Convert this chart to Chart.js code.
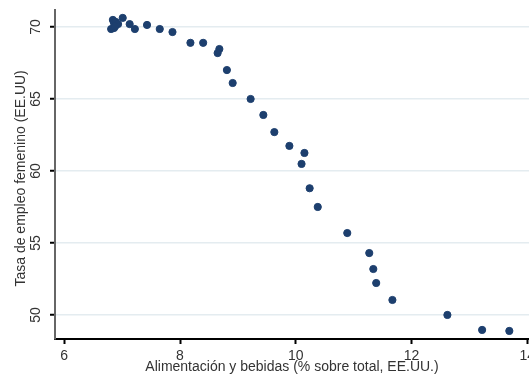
<!DOCTYPE html>
<html>
<head>
<meta charset="utf-8">
<script src="https://cdn.jsdelivr.net/npm/chart.js@4/dist/chart.umd.min.js"></script>
<style>
  html, body { margin: 0; padding: 0; background: #fff; }
  #wrap { width: 529px; height: 375px; }
</style>
</head>
<body>
<div id="wrap"><canvas id="graf"></canvas></div>
<script>
// Datos
const alimentacion = [6.81, 6.84, 6.86, 6.89, 6.93, 6.86, 6.88, 7.01, 7.13, 7.22, 7.43, 7.65, 7.87, 8.18, 8.40, 8.68, 8.65, 8.81, 8.91, 9.22, 9.44, 9.63, 9.89, 10.15, 10.10, 10.24, 10.38, 10.89, 11.27, 11.34, 11.39, 11.67, 12.62, 13.22, 13.69];
const empleo = [69.86, 70.49, 70.28, 70.35, 70.20, 69.93, 70.05, 70.63, 70.20, 69.86, 70.14, 69.86, 69.65, 68.90, 68.90, 68.47, 68.19, 67.01, 66.11, 65.00, 63.89, 62.70, 61.74, 61.25, 60.49, 58.80, 57.50, 55.69, 54.30, 53.19, 52.22, 51.04, 50.00, 48.96, 48.89];
const ticksX = [6, 8, 10, 12, 14];
const ticksY = [50, 55, 60, 65, 70];

const puntos = alimentacion.map((x, i) => ({ x: x, y: empleo[i] }));
const azul = "#1d3f6e";
const gris = "#333333";

new Chart(document.getElementById("graf"), {
  type: "scatter",
  data: {
    datasets: [{
      data: puntos,
      backgroundColor: azul,
      borderColor: azul,
      pointRadius: 3.6,
      pointHoverRadius: 3.6
    }]
  },
  options: {
    responsive: true,
    maintainAspectRatio: false,
    animation: false,
    layout: { autoPadding: false, padding: { top: 10, left: 0, right: 0, bottom: 0 } },
    plugins: { legend: { display: false }, tooltip: { enabled: false } },
    scales: {
      x: {
        type: "linear",
        min: 5.84,
        max: 14.03,
        afterBuildTicks: (s) => { s.ticks = ticksX.map(v => ({ value: v })); },
        afterFit: (s) => { s.height = 36; s.paddingLeft = 0; s.paddingRight = 0; },
        border: { color: "#000", width: 2 },
        grid: { drawOnChartArea: false, tickLength: 5, tickColor: "#000", tickWidth: 2 },
        ticks: { color: gris, padding: 4, maxRotation: 0, font: { family: "Liberation Sans", size: 14 } },
        title: {
          display: true,
          text: "Alimentación y bebidas (% sobre total, EE.UU.)",
          color: gris,
          font: { family: "Liberation Sans", size: 14, lineHeight: 1.1 },
          padding: { top: 0, bottom: 0 }
        }
      },
      y: {
        type: "linear",
        min: 48.33,
        max: 71.18,
        afterBuildTicks: (s) => { s.ticks = ticksY.map(v => ({ value: v })); },
        afterFit: (s) => { s.width = 55; s.paddingTop = 0; s.paddingBottom = 0; },
        border: { color: "#666", width: 2 },
        grid: { color: "#e4ecf0", lineWidth: 1.5, tickLength: 5, tickColor: "#000", tickWidth: 2 },
        ticks: {
          color: gris, padding: 6, minRotation: 90, maxRotation: 90, crossAlign: "center",
          font: { family: "Liberation Sans", size: 14 }
        },
        title: {
          display: true,
          text: "Tasa de empleo femenino (EE.UU)\u00a0\u00a0",
          color: gris,
          font: { family: "Liberation Sans", size: 14, lineHeight: 1.1 },
          padding: { top: 13, bottom: 0 }
        }
      }
    }
  }
});
</script>
</body>
</html>
